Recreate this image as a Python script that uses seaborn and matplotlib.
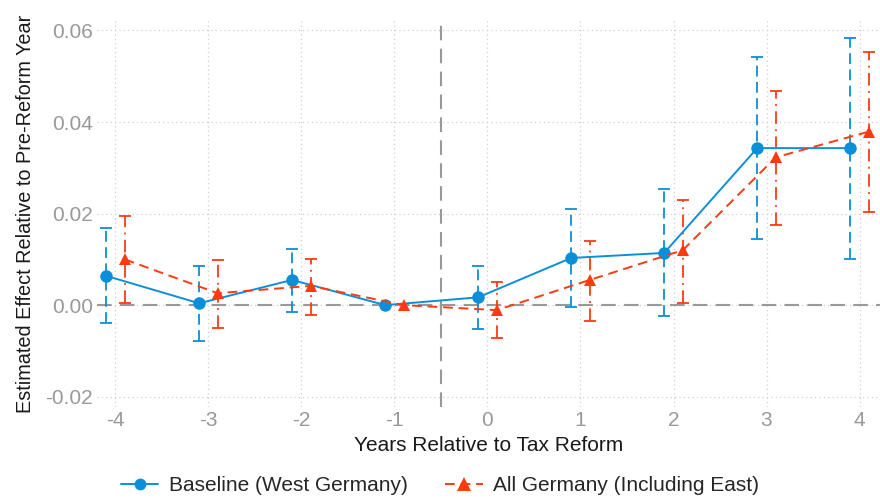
import numpy as np
import pandas as pd
import matplotlib
matplotlib.use("Agg")
import matplotlib.pyplot as plt
from matplotlib.lines import Line2D
import seaborn as sns

# Event-study estimates relative to the pre-reform year (-1)
years = [-4, -3, -2, -1, 0, 1, 2, 3, 4]

west_est = [0.0064, 0.0004, 0.0055, 0.0000, 0.0017, 0.0103, 0.0114, 0.0343, 0.0343]
west_lo = [-0.0039, -0.0078, -0.0015, 0.0000, -0.0052, -0.0005, -0.0023, 0.0144, 0.0100]
west_hi = [0.0168, 0.0085, 0.0122, 0.0000, 0.0085, 0.0211, 0.0253, 0.0541, 0.0583]

all_est = [0.0100, 0.0026, 0.0042, 0.0000, -0.0011, 0.0055, 0.0120, 0.0323, 0.0379]
all_lo = [0.0005, -0.0050, -0.0022, 0.0000, -0.0072, -0.0035, 0.0005, 0.0175, 0.0204]
all_hi = [0.0195, 0.0098, 0.0100, 0.0000, 0.0050, 0.0140, 0.0230, 0.0468, 0.0554]

series_names = ["Baseline (West Germany)", "All Germany (Including East)"]
y_ticks = [-0.02, 0.00, 0.02, 0.04, 0.06]
y_tick_labels = ["-0.02", "0.00", "0.02", "0.04", "0.06"]

BLUE = "#0c8fd9"
RED = "#ff3a10"
GREY = "#999999"

sns.set_theme(style="white")
plt.rcParams["font.family"] = ["Liberation Sans", "DejaVu Sans"]

# Small horizontal dodge so the two series do not overlap
dodge = 0.1
df = pd.concat([
    pd.DataFrame({"year": years, "x": np.array(years) - dodge, "est": west_est,
                  "lo": west_lo, "hi": west_hi, "sample": series_names[0]}),
    pd.DataFrame({"year": years, "x": np.array(years) + dodge, "est": all_est,
                  "lo": all_lo, "hi": all_hi, "sample": series_names[1]}),
], ignore_index=True)

fig = plt.figure(figsize=(8.8, 4.99), dpi=100)
ax = fig.add_axes([0.110, 0.184, 0.890, 0.776])

# Reference lines: zero effect and the reform date
ax.axhline(0, color=GREY, lw=1.5, ls=(0, (7, 4)), zorder=1)
ax.axvline(-0.5, color=GREY, lw=1.5, ls=(0, (7, 4)), zorder=1)

err_styles = {series_names[0]: (BLUE, (0, (6, 3))),
              series_names[1]: (RED, (0, (7, 3, 1, 3)))}

for name in series_names:
    sub = df[(df["sample"] == name) & (df["hi"] != df["lo"])]
    color, ls = err_styles[name]
    eb = ax.errorbar(sub["x"], sub["est"],
                     yerr=[sub["est"] - sub["lo"], sub["hi"] - sub["est"]],
                     fmt="none", ecolor=color, elinewidth=1.3,
                     capsize=4, capthick=1.3, zorder=2)
    for lc in eb.lines[2]:
        lc.set_linestyle(ls)

sns.lineplot(data=df, x="x", y="est", hue="sample", style="sample",
             hue_order=series_names, style_order=series_names,
             palette=[BLUE, RED], markers=["o", "^"],
             dashes=[(None, None), (5, 3)], markersize=9,
             markeredgewidth=0, linewidth=1.4, sort=True,
             estimator=None, legend=False, ax=ax, zorder=3)

# Axes cosmetics
ax.set_xlim(-4.2, 4.22)
ax.set_ylim(-0.0223, 0.0623)
ax.set_xticks(years)
ax.set_xticklabels([str(y) for y in years])
ax.set_yticks(y_ticks)
ax.set_yticklabels(y_tick_labels)
ax.grid(True, color="#cfcfcf", ls=(0, (1, 2.5)), lw=0.9)
ax.set_axisbelow(True)
for sp in ax.spines.values():
    sp.set_visible(False)
ax.tick_params(axis="both", length=0, labelsize=15, colors=GREY, pad=3)
ax.set_xlabel("Years Relative to Tax Reform", fontsize=15, color="#1a1a1a", labelpad=4)
ax.set_ylabel("Estimated Effect Relative to Pre-Reform Year", fontsize=14.3,
              color="#1a1a1a", labelpad=7)

handles = [
    Line2D([0], [0], color=BLUE, lw=1.4, marker="o", ms=8.5, mew=0),
    Line2D([0], [0], color=RED, lw=1.4, ls=(0, (5, 3)), marker="^", ms=9.5, mew=0),
]
fig.legend(handles, series_names, loc="lower center", ncol=2, frameon=False,
           fontsize=15, bbox_to_anchor=(0.5, -0.03), handlelength=1.8,
           columnspacing=1.8, handletextpad=0.5)

fig.savefig("out.png", dpi=100)
